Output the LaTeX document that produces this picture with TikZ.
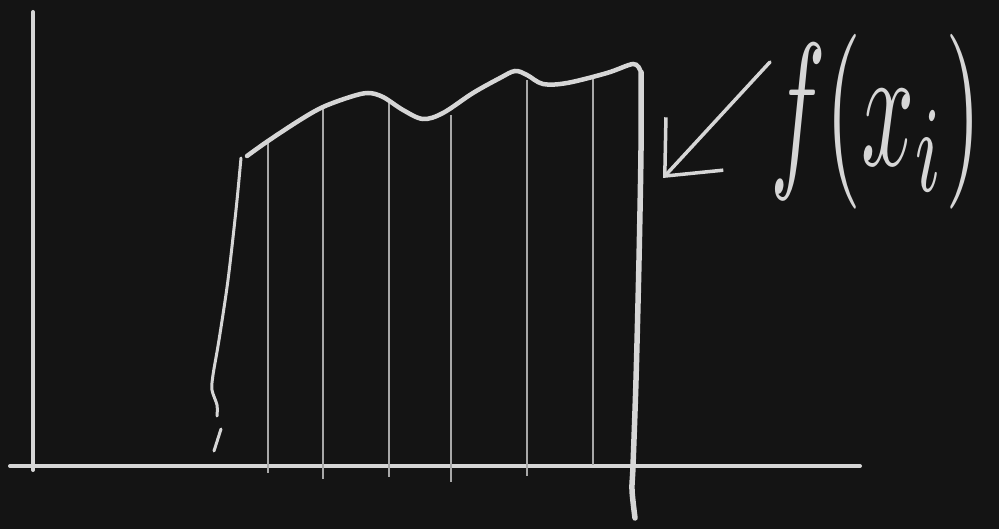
\documentclass[tikz,border=0pt]{standalone}
\usepackage{graphicx}
\usetikzlibrary{arrows.meta}
\definecolor{board}{HTML}{141414}
\definecolor{chalk}{HTML}{D6D6D6}
\definecolor{thinchalk}{HTML}{A8A8A8}

\begin{document}
\begin{tikzpicture}[x=1pt,y=-1pt,line width=4pt,line cap=round,draw=chalk]
  \fill[board] (0,0) rectangle (999,529);
  \useasboundingbox (0,0) rectangle (999,529);
  % axes
  \draw (33,12) -- (33,470);
  \draw (10,466) -- (860,466);
  % thin strips under the curve
  \foreach \xs/\top/\bot in {268/139/473, 323/108/479, 389/99/477,
                             451/115/482, 527/80/476, 593/77/465} {
    \draw[thinchalk,line width=1.4pt,line cap=butt] (\xs,\top) -- (\xs,\bot);
  }
  % the curve f
  \draw[line width=4.5pt] plot[smooth,tension=0.55] coordinates {
    (247,156) (268,141) (300,120) (323,107) (350,97) (368,93) (383,97)
    (403,110) (423,119) (443,113) (473,93) (500,78) (515,71) (527,75)
    (543,84) (567,83) (607,73) (633,64) (640,70)};
  % left edge, broken near the axis
  \draw[line width=3pt] plot[smooth,tension=0.5] coordinates {
    (241,158) (236,210) (228,280) (219,340) (213,375) (212,390) (217,405) (217,416)};
  \draw[line width=3pt] (221,429) -- (214,451);
  % right edge
  \draw[line width=5.5pt] plot[smooth,tension=0.5] coordinates {
    (641,72) (641,150) (639,260) (636,380) (633,466) (632,490) (635,518)};
  % label and arrow
  \node[text=chalk,inner sep=0pt] (fx) at (876,122)
    {\scalebox{9.3}[17.5]{$f(x_i)$}};
  \coordinate (tail) at (770,62);
  \coordinate (tip) at (663,178);
  \draw[line width=3.5pt,-{Straight Barb[length=44pt,width=78pt,line width=3.5pt]}] (tail) -- (tip);
\end{tikzpicture}
\end{document}
